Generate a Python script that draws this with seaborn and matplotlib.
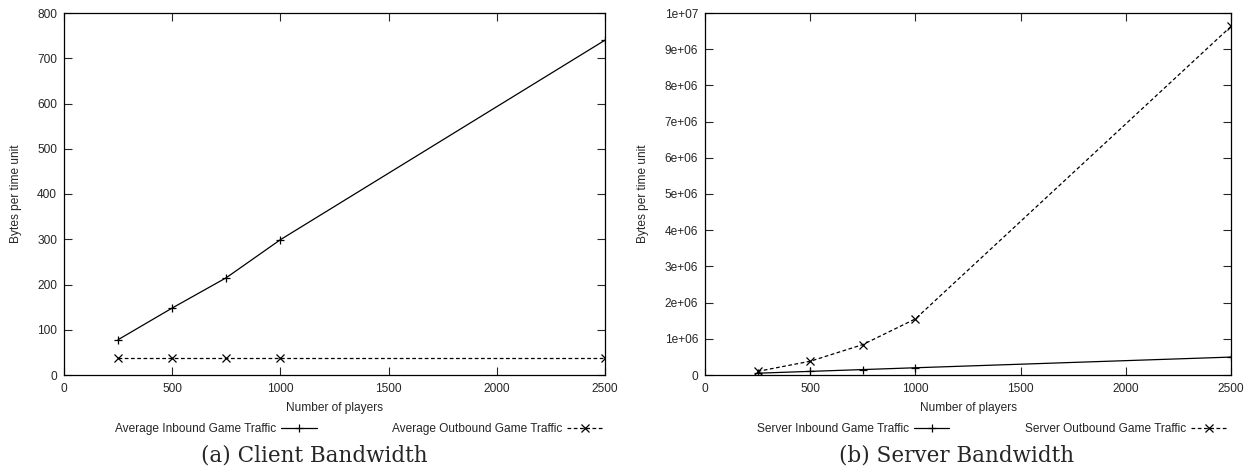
import numpy as np
import pandas as pd
import matplotlib
matplotlib.use("Agg")
import matplotlib.pyplot as plt
import seaborn as sns
from matplotlib.ticker import FuncFormatter

# number of players on the x axis
players = [250, 500, 750, 1000, 2500]

# client bandwidth (bytes per time unit)
client_inbound = [78, 148, 215, 299, 740]
client_outbound = [38, 38, 38, 38, 38]

# server bandwidth (bytes per time unit)
server_inbound = [50000, 100000, 150000, 200000, 495000]
server_outbound = [100000, 380000, 840000, 1550000, 9630000]

client_labels = ["Average Inbound Game Traffic", "Average Outbound Game Traffic"]
server_labels = ["Server Inbound Game Traffic", "Server Outbound Game Traffic"]


def to_long(inbound, outbound, labels):
    """Build a long-form frame for seaborn."""
    return pd.DataFrame({
        "players": players * 2,
        "value": inbound + outbound,
        "series": [labels[0]] * len(players) + [labels[1]] * len(players),
    })


sns.set_style("ticks")
plt.rcParams["font.family"] = ["Liberation Sans", "DejaVu Sans"]
plt.rcParams["axes.linewidth"] = 0.9

FS = 8.6

fig = plt.figure(figsize=(12.56, 4.74), dpi=100)
W, H = 1256, 474
ax_a = fig.add_axes([64 / W, (H - 375) / H, (605 - 64) / W, (375 - 13) / H])
ax_b = fig.add_axes([705 / W, (H - 375) / H, (1231 - 705) / W, (375 - 13) / H])


def draw_panel(ax, df, labels, ylim, ystep, caption, cap_x):
    sns.lineplot(data=df, x="players", y="value", hue="series", style="series",
                 palette=["black", "black"], markers={labels[0]: "+", labels[1]: "x"},
                 dashes={labels[0]: (None, None), labels[1]: (3, 2)},
                 markersize=5.5, markeredgewidth=0.9, markeredgecolor="black",
                 linewidth=0.9, ax=ax)
    ax.set_xlim(0, 2500)
    ax.set_ylim(*ylim)
    ax.set_xticks(np.arange(0, 2501, 500))
    ax.set_yticks(np.arange(ylim[0], ylim[1] + ystep / 2, ystep))
    ax.yaxis.set_major_formatter(FuncFormatter(lambda v, p: f"{v:g}"))
    ax.tick_params(direction="in", length=6, width=0.8, labelsize=FS,
                   top=True, right=True)
    ax.tick_params(axis="x", pad=6)
    ax.tick_params(axis="y", pad=5)
    ax.set_xlabel("Number of players", fontsize=FS, labelpad=5)
    ax.set_ylabel("Bytes per time unit", fontsize=FS, labelpad=11)
    for s in ax.spines.values():
        s.set_color("black")
    handles, lbls = ax.get_legend_handles_labels()
    for h in handles:
        h.set_markeredgecolor("black")
        h.set_markeredgewidth(0.9)
    ax.legend(handles, lbls, loc="center", bbox_to_anchor=(0.545, -0.149),
              ncol=2, frameon=False, markerfirst=False, fontsize=FS,
              columnspacing=6.3, handlelength=3.0, handletextpad=0.4)
    ax.text(cap_x, -0.221, caption, transform=ax.transAxes, ha="center", va="center",
            fontsize=15.5, family=["DejaVu Serif"])


draw_panel(ax_a, to_long(client_inbound, client_outbound, client_labels),
           client_labels, (0, 800), 100, "(a) Client Bandwidth", 0.462)
draw_panel(ax_b, to_long(server_inbound, server_outbound, server_labels),
           server_labels, (0, 1e7), 1e6, "(b) Server Bandwidth", 0.479)

fig.savefig("out.png", dpi=100)
